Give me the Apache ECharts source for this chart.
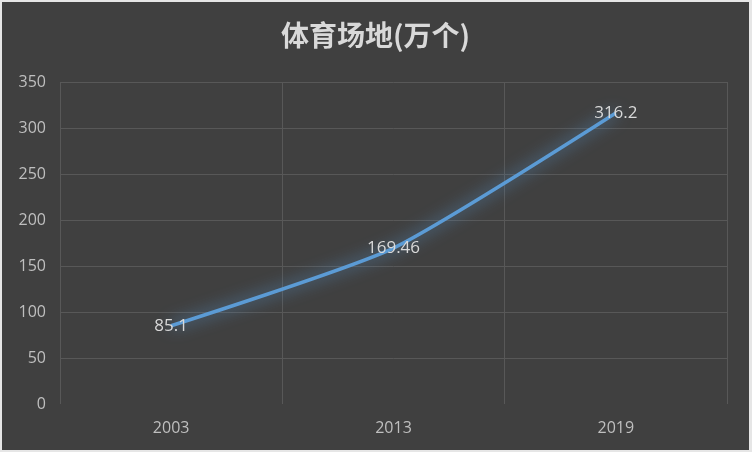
<!DOCTYPE html>
<html>
<head>
<meta charset="utf-8">
<script src="https://cdn.jsdelivr.net/npm/echarts@6/dist/echarts.min.js"></script>
<style>
html,body{margin:0;padding:0;background:#e6e6e6;width:752px;height:452px;overflow:hidden;}
#c{position:absolute;left:2px;top:2px;width:747px;height:448px;background:#404040;}
</style>
</head>
<body>
<div id="c"></div>
<script>
const titleText = '体育场地(万个)';
const categories = ['2003', '2013', '2019'];
const values = [85.1, 169.46, 316.2];
const yMin = 0, yMax = 350, yInterval = 50;

const chart = echarts.init(document.getElementById('c'));
const gridColors = ['rgba(0,0,0,0)'];
for (let i = 1; i <= (yMax - yMin) / yInterval; i++) gridColors.push('#585858');

chart.setOption({
  backgroundColor: '#404040',
  animation: false,
  title: {
    text: titleText,
    left: 'center',
    top: 14,
    textStyle: {color: '#d9d9d9', fontSize: 28, fontWeight: 'bold', fontFamily: 'Noto Sans CJK SC'}
  },
  grid: {left: 58, right: 22, top: 80, bottom: 46, containLabel: false},
  xAxis: {
    type: 'category',
    data: categories,
    boundaryGap: true,
    axisLine: {show: false},
    axisTick: {show: false},
    axisLabel: {color: '#bfbfbf', fontSize: 16, margin: 16, fontFamily: 'Open Sans'},
    splitLine: {show: true, lineStyle: {color: '#585858', width: 1}}
  },
  yAxis: {
    type: 'value',
    min: yMin, max: yMax, interval: yInterval,
    axisLine: {show: false},
    axisTick: {show: false},
    axisLabel: {color: '#bfbfbf', fontSize: 16, margin: 14, fontFamily: 'Open Sans'},
    splitLine: {show: true, lineStyle: {color: gridColors, width: 1}}
  },
  series: [{
    type: 'line',
    data: values,
    smooth: 0.2,
    showSymbol: true,
    symbol: 'circle',
    symbolSize: 0,
    lineStyle: {color: '#5b9bd5', width: 3.5, shadowColor: 'rgba(91,155,213,0.95)', shadowBlur: 16},
    itemStyle: {color: '#5b9bd5'},
    label: {
      show: true,
      position: 'inside',
      color: '#d9d9d9',
      fontSize: 17,
      fontFamily: 'Open Sans'
    }
  }]
});
</script>
</body>
</html>
